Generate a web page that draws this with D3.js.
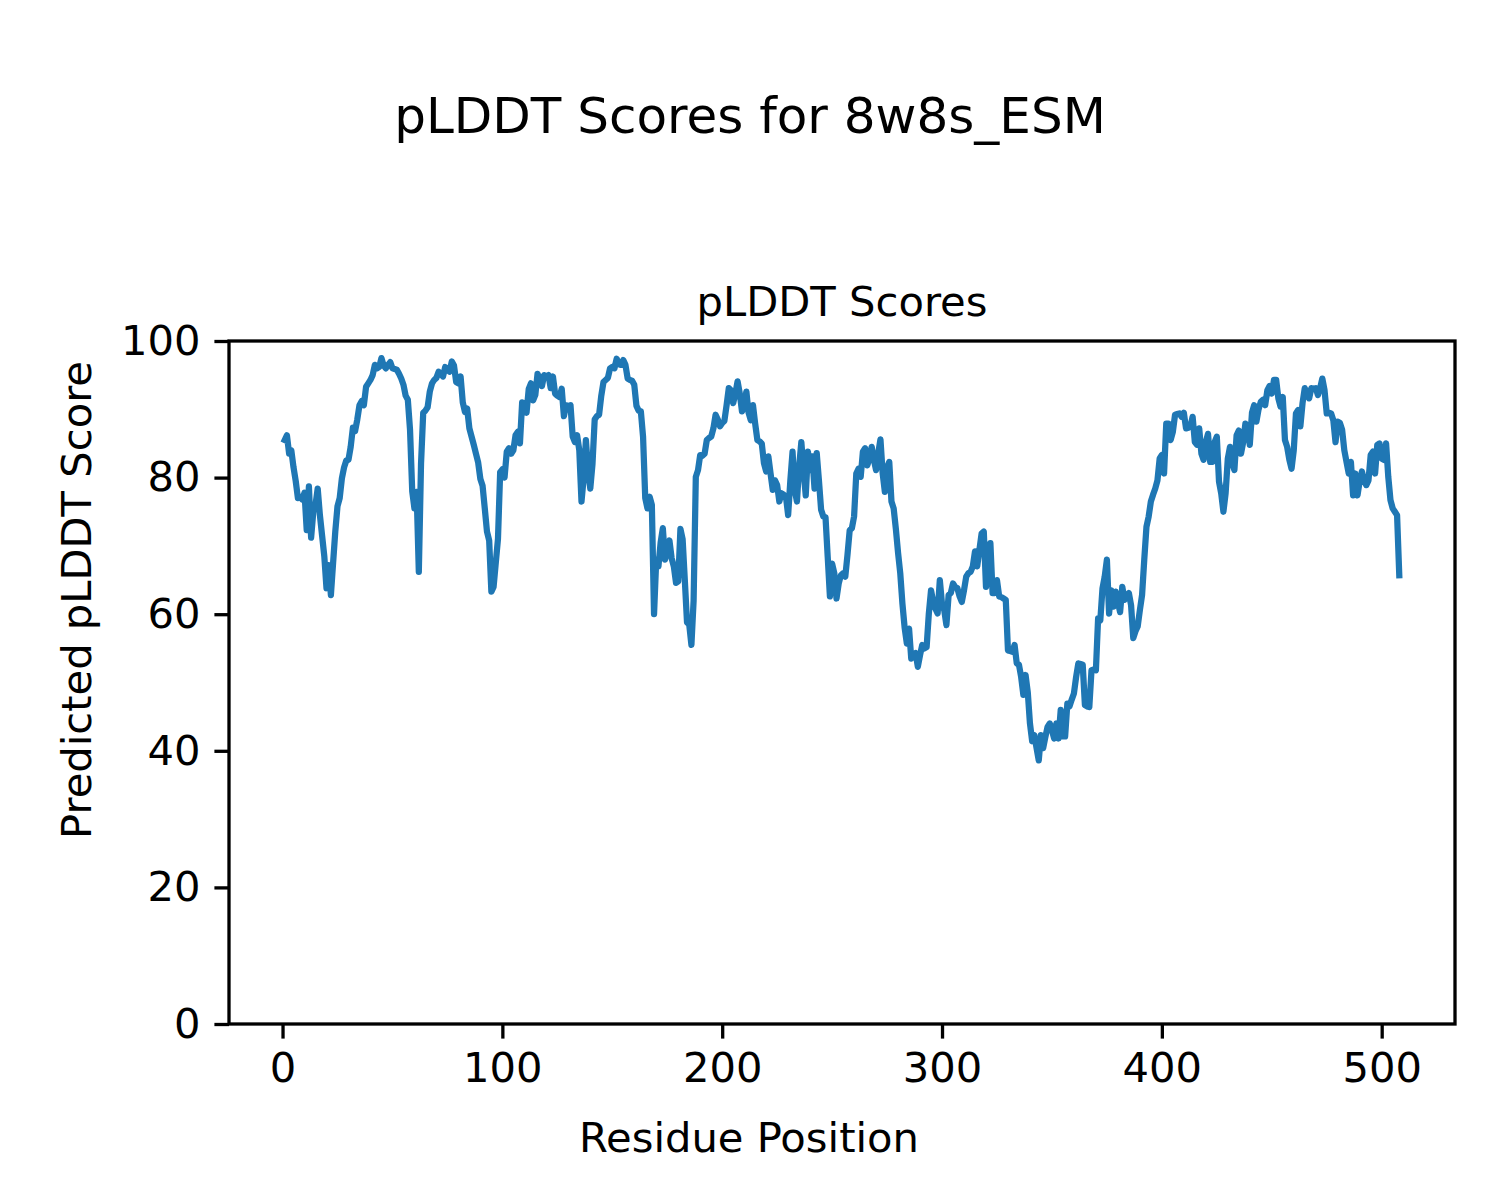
<!DOCTYPE html>
<html>
<head>
<meta charset="utf-8">
<script src="https://cdn.jsdelivr.net/npm/d3@7"></script>
<style>
  html, body { margin: 0; padding: 0; background: #ffffff; }
  svg { display: block; }
  text { font-family: "DejaVu Sans", sans-serif; fill: #000; }
</style>
</head>
<body>
<div id="chart"></div>
<script>
const figTitle = "pLDDT Scores for 8w8s_ESM";
const axTitle = "pLDDT Scores";
const xLabel = "Residue Position";
const yLabel = "Predicted pLDDT Score";
const xTicks = [0, 100, 200, 300, 400, 500];
const yTicks = [0, 20, 40, 60, 80, 100];

// pLDDT per residue (residue positions 1..508)
const plddt = [
  85.5, 86.2, 83.5, 84.0, 81.5, 79.5, 77.0, 77.2, 76.8,
  77.8, 72.3, 78.7, 71.2, 75.0, 76.0, 78.4, 74.5, 71.5, 68.5,
  63.8, 67.2, 62.8, 67.5, 72.1, 75.8, 77.0, 79.9, 81.5, 82.5,
  82.6, 84.5, 87.3, 86.8, 88.5, 90.6, 91.2, 90.6, 93.3, 93.8,
  94.3, 95.0, 96.5, 96.0, 96.2, 97.5, 96.4, 96.0, 96.5, 96.9,
  96.0, 95.9, 95.8, 95.2, 94.5, 93.6, 92.0, 91.4, 87.0, 78.0,
  75.5, 77.9, 66.2, 82.0, 89.5, 89.8, 90.3, 92.6, 93.8, 94.3,
  94.6, 95.5, 95.2, 94.8, 96.2, 95.8, 95.5, 97.0, 96.4, 94.0,
  93.8, 94.8, 91.0, 89.6, 90.1, 87.2, 86.0, 84.8, 83.5, 82.2,
  79.8, 78.8, 75.5, 72.1, 70.8, 63.3, 64.0, 67.5, 71.0, 80.8,
  81.2, 80.0, 83.8, 84.3, 83.5, 84.0, 86.2, 86.7, 85.0, 91.0,
  90.9, 89.5, 93.0, 93.8, 91.3, 92.1, 95.2, 94.5, 93.4, 95.0,
  94.8, 95.0, 93.1, 94.8, 92.3, 92.0, 91.8, 93.0, 89.0, 90.6,
  90.5, 90.6, 86.0, 85.2, 86.2, 84.0, 76.5, 80.0, 85.5, 81.0,
  78.4, 82.0, 88.5, 89.0, 89.2, 92.0, 94.0, 94.3, 94.6, 96.0,
  96.2, 96.0, 97.4, 96.6, 96.5, 97.2, 96.5, 94.5, 94.3, 94.2,
  93.6, 90.5, 89.8, 89.7, 86.0, 77.0, 75.5, 77.2, 76.0, 60.0,
  68.0, 67.0, 70.5, 72.6, 68.0, 69.5, 70.8, 68.2, 67.0, 64.6,
  64.8, 72.5, 71.0, 65.0, 58.8, 58.5, 55.5, 62.0, 80.1, 81.1,
  83.3, 83.2, 83.5, 85.5, 85.8, 86.0, 87.2, 89.2, 88.5, 87.5,
  88.0, 88.3, 90.6, 93.1, 92.8, 90.9, 92.3, 94.1, 92.3, 89.7,
  90.4, 92.6, 89.5, 88.4, 90.6, 87.9, 85.5, 85.3, 85.0, 82.1,
  80.9, 83.1, 80.6, 78.2, 79.6, 78.9, 76.5, 77.7, 77.5, 77.2,
  74.5, 79.6, 83.8, 78.2, 76.5, 81.6, 85.2, 81.1, 77.4, 83.8,
  81.1, 83.1, 78.4, 83.6, 79.6, 75.3, 74.3, 74.2, 68.4, 62.6,
  67.4, 66.0, 62.3, 64.5, 65.7, 66.0, 65.5, 68.7, 72.3, 72.6,
  74.3, 80.6, 81.3, 80.1, 83.8, 84.3, 81.8, 82.8, 84.5, 82.6,
  81.1, 83.6, 85.6, 80.6, 77.9, 81.5, 82.3, 76.5, 75.5, 72.5,
  69.0, 66.0, 61.5, 58.0, 55.7, 57.9, 53.5, 54.0, 54.3, 52.3,
  54.0, 55.5, 55.0, 55.2, 60.1, 63.5, 61.8, 60.8, 60.1, 65.0,
  61.5, 60.6, 58.4, 62.8, 63.1, 64.5, 64.0, 63.8, 62.6, 61.8,
  63.5, 65.5, 66.0, 66.2, 67.0, 69.2, 67.0, 69.4, 71.8, 72.1,
  64.0, 67.0, 70.4, 63.1, 63.1, 65.0, 62.6, 62.5, 62.3, 62.1,
  54.7, 54.6, 54.5, 55.5, 52.8, 52.6, 50.8, 48.2, 51.1, 48.6,
  44.0, 41.4, 42.3, 40.4, 38.6, 42.3, 40.4, 42.0, 43.5, 44.0,
  43.0, 41.8, 44.0, 41.8, 46.0, 42.1, 42.1, 46.9, 46.5, 47.5,
  48.4, 50.8, 52.8, 52.7, 52.6, 46.7, 46.5, 46.4, 51.8, 51.9,
  51.8, 59.4, 59.1, 63.8, 65.5, 68.0, 60.1, 63.5, 61.1, 63.3,
  61.8, 60.3, 64.0, 62.1, 62.6, 63.1, 61.3, 56.5, 57.5, 58.2,
  60.6, 62.8, 68.0, 72.8, 74.3, 76.5, 77.5, 78.4, 79.6, 82.8,
  83.3, 80.6, 87.9, 87.9, 85.5, 86.7, 89.2, 89.3, 89.4, 88.9,
  89.5, 87.2, 87.3, 87.5, 88.9, 85.2, 84.8, 87.2, 83.5, 82.6,
  85.2, 86.4, 82.3, 82.3, 85.2, 86.0, 79.4, 77.7, 75.0, 77.7,
  82.8, 84.5, 82.1, 81.1, 86.2, 86.9, 83.5, 85.2, 87.9, 87.2,
  84.8, 89.5, 90.6, 88.2, 90.0, 91.1, 91.4, 90.6, 92.8, 93.4,
  92.3, 94.3, 94.3, 91.6, 90.4, 91.8, 85.5, 84.5, 82.6, 81.3,
  84.0, 89.4, 89.9, 87.5, 90.9, 93.1, 92.3, 91.6, 93.1, 93.0,
  93.1, 92.1, 93.1, 94.5, 92.8, 89.4, 89.5, 89.4, 88.4, 85.2,
  88.2, 88.0, 87.0, 84.0, 82.3, 80.6, 82.3, 77.4, 80.6, 77.4,
  79.5, 80.9, 79.6, 78.9, 79.6, 83.3, 83.8, 80.6, 84.8, 85.0,
  82.8, 82.6, 85.0, 80.1, 76.7, 75.5, 75.0, 74.5, 65.7
];
const residues = plddt.map((_, i) => i + 1);

const W = 1500, H = 1200;
const plot = { left: 229, top: 341, right: 1455, bottom: 1024 };
const color = "#1f77b4";

const svg = d3.select("#chart").append("svg")
  .attr("width", W).attr("height", H)
  .attr("viewBox", `0 0 ${W} ${H}`);
svg.append("rect").attr("width", W).attr("height", H).attr("fill", "#fff");

const [xmin, xmax] = d3.extent(residues);
const pad = (xmax - xmin) * 0.05;
const x = d3.scaleLinear().domain([xmin - pad, xmax + pad]).range([plot.left, plot.right]);
const y = d3.scaleLinear().domain([0, 100]).range([plot.bottom, plot.top]);

// line
const line = d3.line().x((d, i) => x(residues[i])).y(d => y(d));
svg.append("path")
  .datum(plddt)
  .attr("d", line)
  .attr("fill", "none")
  .attr("stroke", color)
  .attr("stroke-width", 6.25)
  .attr("stroke-linejoin", "round")
  .attr("stroke-linecap", "square");

// axes
const fontSize = 41.67;
const xAxis = d3.axisBottom(x).tickValues(xTicks).tickSize(14.6).tickPadding(14).tickFormat(d3.format("d"));
const yAxis = d3.axisLeft(y).tickValues(yTicks).tickSize(14.6).tickPadding(14).tickFormat(d3.format("d"));

const gx = svg.append("g").attr("transform", `translate(0,${plot.bottom})`).call(xAxis);
const gy = svg.append("g").attr("transform", `translate(${plot.left},0)`).call(yAxis);
[gx, gy].forEach(g => {
  g.select(".domain").remove();
  g.selectAll(".tick line").attr("stroke", "#000").attr("stroke-width", 3.3);
  g.selectAll(".tick text").attr("font-size", fontSize).attr("fill", "#000")
    .style("font-family", "'DejaVu Sans', sans-serif");
});

// frame (spines)
svg.append("rect")
  .attr("x", plot.left).attr("y", plot.top)
  .attr("width", plot.right - plot.left).attr("height", plot.bottom - plot.top)
  .attr("fill", "none").attr("stroke", "#000").attr("stroke-width", 3.3);

// titles and labels
svg.append("text")
  .attr("x", 750).attr("y", 133)
  .attr("text-anchor", "middle").attr("font-size", 50)
  .text(figTitle);

svg.append("text")
  .attr("x", (plot.left + plot.right) / 2).attr("y", 316)
  .attr("text-anchor", "middle").attr("font-size", fontSize)
  .text(axTitle);

svg.append("text")
  .attr("x", 749).attr("y", 1152)
  .attr("text-anchor", "middle").attr("font-size", fontSize)
  .text(xLabel);

svg.append("text")
  .attr("transform", "translate(91,600) rotate(-90)")
  .attr("text-anchor", "middle").attr("font-size", fontSize)
  .text(yLabel);
</script>
</body>
</html>
